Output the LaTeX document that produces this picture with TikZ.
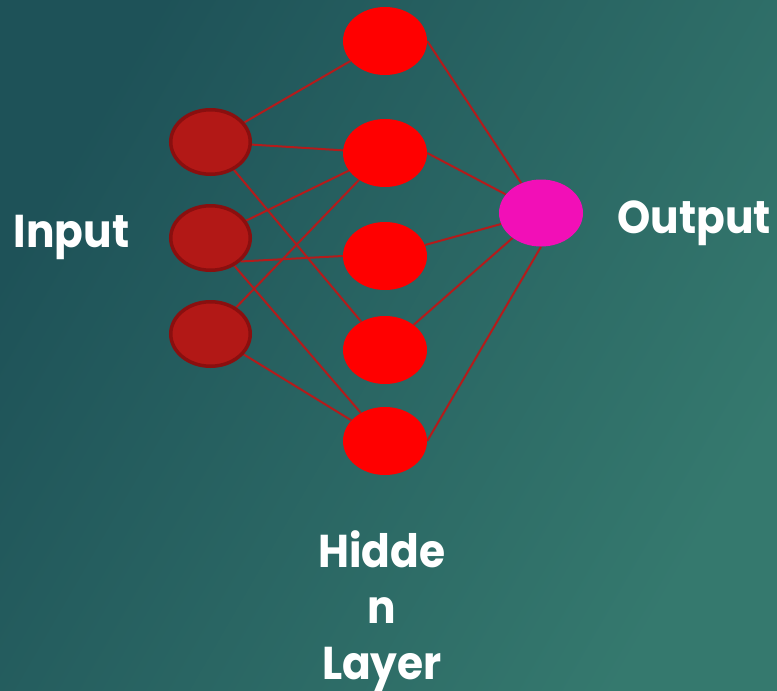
\documentclass[tikz,border=0pt]{standalone}
\usepackage{fontspec}
\newfontfamily\labelfont{Poppins}[FakeStretch=0.92]
\usetikzlibrary{shapes.geometric}

\definecolor{bgdark}{HTML}{1E5258}
\definecolor{bglight}{HTML}{35796E}
\definecolor{wire}{HTML}{B41B1B}
\definecolor{infill}{HTML}{B21816}
\definecolor{inborder}{HTML}{8A0F0F}
\definecolor{hidfill}{HTML}{FF0000}
\definecolor{outfill}{HTML}{F20FB7}

\pgfdeclarelayer{slide}
\pgfdeclarelayer{wires}
\pgfsetlayers{slide,wires,main}

\tikzset{
  neuron/.style={ellipse, inner sep=0pt},
  innode/.style={neuron, fill=infill, draw=inborder, line width=3.5pt,
    minimum width=79.5pt, minimum height=64.5pt},
  hidnode/.style={neuron, fill=hidfill, minimum width=84pt, minimum height=68pt},
  outnode/.style={neuron, fill=outfill, minimum width=84pt, minimum height=67pt},
  wirestyle/.style={draw=wire, line width=2pt},
  label/.style={text=white, font=\labelfont\bfseries\fontsize{46}{56}\selectfont,
    inner sep=0pt, align=center}
}

\begin{document}
\begin{tikzpicture}[x=1pt, y=-1pt]
  % slide background
  \begin{pgfonlayer}{slide}
    \shade[left color=bgdark, right color=bglight, shading angle=60]
      (0,0) rectangle (777,691);
  \end{pgfonlayer}
  \useasboundingbox (0,0) rectangle (777,691);

  % input layer
  \node[innode] (i1) at (210.5,142) {};
  \node[innode] (i2) at (210.5,238) {};
  \node[innode] (i3) at (210.5,334) {};

  % hidden layer
  \node[hidnode] (h1) at (385,41) {};
  \node[hidnode] (h2) at (385,153) {};
  \node[hidnode] (h3) at (385,256) {};
  \node[hidnode] (h4) at (385,350) {};
  \node[hidnode] (h5) at (385,441) {};

  % output layer
  \node[outnode] (o) at (541,213) {};

  % connections, kept underneath the neurons
  \begin{pgfonlayer}{wires}
    \draw[wirestyle] (i1) -- (h1);
    \draw[wirestyle] (i1) -- (h2);
    \draw[wirestyle] (i1) -- (h4);
    \draw[wirestyle] (i2) -- (h2);
    \draw[wirestyle] (i2.-38) -- (h3.west);
    \draw[wirestyle] (i2) -- (h5);
    \draw[wirestyle] (i3) -- (h2);
    \draw[wirestyle] (i3) -- (h5);
    \draw[wirestyle] (h1.east) -- (o);
    \draw[wirestyle] (h2.east) -- (o);
    \draw[wirestyle] (h3) -- (o);
    \draw[wirestyle] (h4) -- (o);
    \draw[wirestyle] (h5.east) -- (o.south);
  \end{pgfonlayer}

  % labels
  \node[label, anchor=base] (lin) at (71.5,247) {Input};
  \node[label, anchor=base] (lout) at (694,233) {Output};
  \node[label, anchor=base] (lhid) at (382,679) {Hidde\\n\\Layer};
\end{tikzpicture}
\end{document}
